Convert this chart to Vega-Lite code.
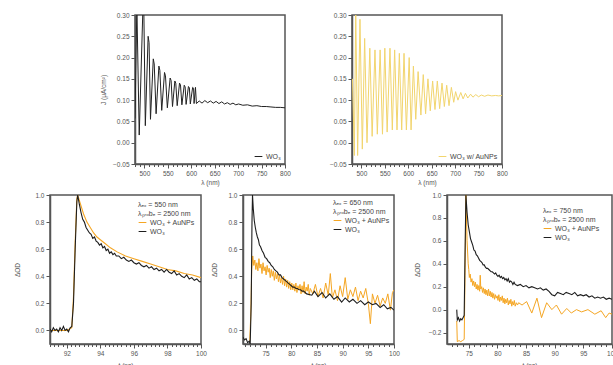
{
"$schema":"https://vega.github.io/schema/vega-lite/v6.json",
"autosize":{"type":"none"},
"padding":{"left":50,"top":15,"right":563,"bottom":350},
"background":"white",
"config":{
 "font":"Liberation Sans",
 "view":{"stroke":"#555","strokeWidth":1.5},
 "axis":{"grid":false,"domainColor":"#555","domainWidth":1.5,"tickColor":"#555","tickWidth":1,"tickSize":4,"labelFontSize":6.5,"labelColor":"#555","labelPadding":2,"titleFontSize":6.5,"titleColor":"#555","titleFontWeight":"normal","labelFlush":false,"labelOverlap":false},
 "legend":{"labelFontSize":7,"titleFontSize":7,"titleLineHeight":9,"labelColor":"#444","titleColor":"#444","titleFontWeight":"normal","symbolType":"stroke","symbolStrokeWidth":1.3,"symbolSize":60,"rowPadding":1,"padding":0,"titlePadding":1,"labelOffset":3,"labelFont":"Liberation Sans","titleFont":"Liberation Sans"},
 "line":{"strokeWidth":1,"clip":true}
},
"datasets":{
 "tl":[{"x":480,"y":0.057},{"x":484,"y":0.32},{"x":489,"y":0.018},{"x":497,"y":0.32},{"x":499,"y":0.3},{"x":502,"y":0.04},{"x":508,"y":0.25},{"x":510,"y":0.235},{"x":513,"y":0.055},{"x":519,"y":0.197},{"x":521,"y":0.185},{"x":525,"y":0.068},{"x":531,"y":0.18},{"x":533,"y":0.17},{"x":537,"y":0.076},{"x":543,"y":0.165},{"x":545,"y":0.157},{"x":549,"y":0.082},{"x":555,"y":0.152},{"x":557,"y":0.146},{"x":560,"y":0.085},{"x":565,"y":0.145},{"x":567,"y":0.14},{"x":570,"y":0.087},{"x":575,"y":0.14},{"x":577,"y":0.136},{"x":580,"y":0.089},{"x":585,"y":0.135},{"x":587,"y":0.131},{"x":589,"y":0.09},{"x":594,"y":0.132},{"x":596,"y":0.129},{"x":598,"y":0.091},{"x":603,"y":0.13},{"x":605,"y":0.128},{"x":606,"y":0.092},{"x":609,"y":0.13},{"x":611,"y":0.092},{"x":617,"y":0.098},{"x":623,"y":0.093},{"x":629,"y":0.099},{"x":635,"y":0.094},{"x":641,"y":0.098},{"x":647,"y":0.093},{"x":653,"y":0.097},{"x":659,"y":0.092},{"x":665,"y":0.096},{"x":671,"y":0.091},{"x":677,"y":0.094},{"x":683,"y":0.09},{"x":689,"y":0.093},{"x":695,"y":0.089},{"x":701,"y":0.091},{"x":710,"y":0.088},{"x":720,"y":0.089},{"x":730,"y":0.086},{"x":740,"y":0.087},{"x":750,"y":0.085},{"x":760,"y":0.085},{"x":770,"y":0.084},{"x":780,"y":0.083},{"x":790,"y":0.083},{"x":800,"y":0.082}],
 "tr":[{"x":481,"y":0.15},{"x":485,"y":-0.03},{"x":488,"y":0.31},{"x":492,"y":-0.03},{"x":497,"y":0.29},{"x":502,"y":-0.015},{"x":507,"y":0.245},{"x":512,"y":0.0},{"x":518,"y":0.222},{"x":523,"y":0.015},{"x":529,"y":0.218},{"x":534,"y":0.02},{"x":540,"y":0.218},{"x":545,"y":0.02},{"x":550,"y":0.222},{"x":555,"y":0.025},{"x":561,"y":0.222},{"x":566,"y":0.03},{"x":571,"y":0.218},{"x":576,"y":0.03},{"x":581,"y":0.21},{"x":586,"y":0.03},{"x":591,"y":0.21},{"x":596,"y":0.03},{"x":602,"y":0.2},{"x":606,"y":0.03},{"x":611,"y":0.18},{"x":616,"y":0.055},{"x":621,"y":0.167},{"x":627,"y":0.065},{"x":632,"y":0.16},{"x":637,"y":0.068},{"x":642,"y":0.15},{"x":647,"y":0.075},{"x":652,"y":0.145},{"x":657,"y":0.078},{"x":662,"y":0.145},{"x":667,"y":0.08},{"x":672,"y":0.14},{"x":677,"y":0.085},{"x":682,"y":0.135},{"x":687,"y":0.087},{"x":692,"y":0.13},{"x":697,"y":0.095},{"x":701,"y":0.12},{"x":706,"y":0.1},{"x":712,"y":0.118},{"x":717,"y":0.103},{"x":722,"y":0.116},{"x":727,"y":0.105},{"x":733,"y":0.114},{"x":738,"y":0.107},{"x":744,"y":0.113},{"x":750,"y":0.108},{"x":756,"y":0.112},{"x":763,"y":0.109},{"x":770,"y":0.112},{"x":778,"y":0.11},{"x":786,"y":0.111},{"x":793,"y":0.11},{"x":800,"y":0.111}],
 "bl_a":[{"t":91,"v":0.0},{"t":91.5,"v":0.0},{"t":92,"v":0.0},{"t":92.3,"v":0.02},{"t":92.4,"v":0.25},{"t":92.5,"v":0.65},{"t":92.6,"v":0.97},{"t":92.65,"v":1.0},{"t":92.8,"v":0.94},{"t":93.0,"v":0.86},{"t":93.2,"v":0.8},{"t":93.4,"v":0.76},{"t":93.6,"v":0.72},{"t":93.8,"v":0.69},{"t":94.0,"v":0.67},{"t":94.3,"v":0.64},{"t":94.6,"v":0.61},{"t":95.0,"v":0.58},{"t":95.5,"v":0.55},{"t":96.0,"v":0.53},{"t":96.5,"v":0.51},{"t":97.0,"v":0.49},{"t":97.5,"v":0.47},{"t":98.0,"v":0.45},{"t":98.5,"v":0.44},{"t":99.0,"v":0.42},{"t":99.5,"v":0.41},{"t":100,"v":0.39}],
 "bl_w":[{"t":91.0,"v":0.01},{"t":91.1,"v":-0.01},{"t":91.2,"v":0.02},{"t":91.3,"v":0.0},{"t":91.4,"v":0.01},{"t":91.5,"v":-0.01},{"t":91.6,"v":0.02},{"t":91.7,"v":0.0},{"t":91.8,"v":0.03},{"t":91.9,"v":0.0},{"t":92.0,"v":0.01},{"t":92.1,"v":-0.01},{"t":92.2,"v":0.02},{"t":92.3,"v":0.03},{"t":92.4,"v":0.2},{"t":92.5,"v":0.6},{"t":92.6,"v":0.95},{"t":92.65,"v":1.0},{"t":92.75,"v":0.93},{"t":92.85,"v":0.87},{"t":92.95,"v":0.82},{"t":93.05,"v":0.8},{"t":93.15,"v":0.76},{"t":93.25,"v":0.74},{"t":93.35,"v":0.72},{"t":93.45,"v":0.71},{"t":93.55,"v":0.68},{"t":93.65,"v":0.69},{"t":93.75,"v":0.66},{"t":93.85,"v":0.65},{"t":93.95,"v":0.63},{"t":94.05,"v":0.64},{"t":94.15,"v":0.61},{"t":94.25,"v":0.62},{"t":94.35,"v":0.59},{"t":94.45,"v":0.6},{"t":94.55,"v":0.57},{"t":94.65,"v":0.58},{"t":94.75,"v":0.56},{"t":94.85,"v":0.57},{"t":94.95,"v":0.55},{"t":95.1,"v":0.55},{"t":95.25,"v":0.53},{"t":95.4,"v":0.54},{"t":95.55,"v":0.52},{"t":95.7,"v":0.51},{"t":95.85,"v":0.52},{"t":96.0,"v":0.5},{"t":96.15,"v":0.49},{"t":96.3,"v":0.5},{"t":96.45,"v":0.48},{"t":96.6,"v":0.47},{"t":96.75,"v":0.48},{"t":96.9,"v":0.46},{"t":97.05,"v":0.47},{"t":97.2,"v":0.45},{"t":97.35,"v":0.46},{"t":97.5,"v":0.44},{"t":97.65,"v":0.45},{"t":97.8,"v":0.43},{"t":97.95,"v":0.45},{"t":98.1,"v":0.43},{"t":98.25,"v":0.42},{"t":98.4,"v":0.44},{"t":98.55,"v":0.41},{"t":98.7,"v":0.42},{"t":98.85,"v":0.4},{"t":99.0,"v":0.39},{"t":99.15,"v":0.41},{"t":99.3,"v":0.38},{"t":99.45,"v":0.39},{"t":99.6,"v":0.37},{"t":99.75,"v":0.38},{"t":99.9,"v":0.36},{"t":100,"v":0.36}],
 "bm_a":[{"t":71.9,"v":-0.08},{"t":72.1,"v":0.1},{"t":72.3,"v":0.45},{"t":72.5,"v":0.55},{"t":72.7,"v":0.48},{"t":72.9,"v":0.52},{"t":73.1,"v":0.45},{"t":73.3,"v":0.5},{"t":73.5,"v":0.44},{"t":73.7,"v":0.53},{"t":73.9,"v":0.46},{"t":74.1,"v":0.49},{"t":74.3,"v":0.42},{"t":74.5,"v":0.5},{"t":74.7,"v":0.44},{"t":74.9,"v":0.47},{"t":75.1,"v":0.41},{"t":75.3,"v":0.48},{"t":75.5,"v":0.43},{"t":75.7,"v":0.46},{"t":75.9,"v":0.39},{"t":76.1,"v":0.45},{"t":76.3,"v":0.4},{"t":76.5,"v":0.44},{"t":76.7,"v":0.37},{"t":76.9,"v":0.43},{"t":77.1,"v":0.38},{"t":77.3,"v":0.42},{"t":77.5,"v":0.36},{"t":77.7,"v":0.41},{"t":77.9,"v":0.35},{"t":78.1,"v":0.39},{"t":78.3,"v":0.34},{"t":78.5,"v":0.4},{"t":78.7,"v":0.33},{"t":78.9,"v":0.38},{"t":79.1,"v":0.32},{"t":79.3,"v":0.37},{"t":79.5,"v":0.31},{"t":79.7,"v":0.36},{"t":79.9,"v":0.3},{"t":80.1,"v":0.35},{"t":80.3,"v":0.3},{"t":80.5,"v":0.34},{"t":80.7,"v":0.29},{"t":80.9,"v":0.35},{"t":81.1,"v":0.28},{"t":81.3,"v":0.33},{"t":81.5,"v":0.3},{"t":81.7,"v":0.34},{"t":81.9,"v":0.27},{"t":82.1,"v":0.33},{"t":82.3,"v":0.28},{"t":82.5,"v":0.36},{"t":82.7,"v":0.27},{"t":82.9,"v":0.32},{"t":83.1,"v":0.29},{"t":83.3,"v":0.34},{"t":83.5,"v":0.26},{"t":83.7,"v":0.31},{"t":84.2,"v":0.27},{"t":84.7,"v":0.34},{"t":85.2,"v":0.25},{"t":85.7,"v":0.31},{"t":86.2,"v":0.24},{"t":86.7,"v":0.35},{"t":87.2,"v":0.26},{"t":87.6,"v":0.42},{"t":88.0,"v":0.24},{"t":88.5,"v":0.3},{"t":89.0,"v":0.22},{"t":89.5,"v":0.33},{"t":90.0,"v":0.25},{"t":90.5,"v":0.39},{"t":91.0,"v":0.23},{"t":91.5,"v":0.3},{"t":92.0,"v":0.25},{"t":92.5,"v":0.32},{"t":93.0,"v":0.22},{"t":93.5,"v":0.29},{"t":94.0,"v":0.24},{"t":94.5,"v":0.31},{"t":95.0,"v":0.2},{"t":95.4,"v":0.05},{"t":95.8,"v":0.27},{"t":96.3,"v":0.2},{"t":96.8,"v":0.26},{"t":97.3,"v":0.18},{"t":97.8,"v":0.24},{"t":98.3,"v":0.2},{"t":98.8,"v":0.27},{"t":99.3,"v":0.15},{"t":99.7,"v":0.28},{"t":100,"v":0.3}],
 "bm_w":[{"t":70.6,"v":-0.05},{"t":70.9,"v":-0.07},{"t":71.2,"v":-0.06},{"t":71.5,"v":-0.09},{"t":71.8,"v":-0.08},{"t":72.0,"v":-0.1},{"t":72.2,"v":0.2},{"t":72.35,"v":0.8},{"t":72.45,"v":1.0},{"t":72.6,"v":0.9},{"t":72.8,"v":0.81},{"t":73.0,"v":0.76},{"t":73.2,"v":0.72},{"t":73.4,"v":0.69},{"t":73.6,"v":0.67},{"t":73.8,"v":0.63},{"t":74.0,"v":0.62},{"t":74.3,"v":0.59},{"t":74.6,"v":0.57},{"t":74.9,"v":0.54},{"t":75.2,"v":0.53},{"t":75.5,"v":0.51},{"t":75.8,"v":0.5},{"t":76.1,"v":0.48},{"t":76.4,"v":0.47},{"t":76.7,"v":0.45},{"t":77.0,"v":0.44},{"t":77.3,"v":0.43},{"t":77.6,"v":0.41},{"t":77.9,"v":0.41},{"t":78.2,"v":0.39},{"t":78.5,"v":0.38},{"t":78.8,"v":0.37},{"t":79.1,"v":0.36},{"t":79.4,"v":0.35},{"t":79.7,"v":0.34},{"t":80.0,"v":0.33},{"t":80.3,"v":0.32},{"t":80.6,"v":0.32},{"t":80.9,"v":0.31},{"t":81.2,"v":0.31},{"t":81.5,"v":0.3},{"t":81.8,"v":0.3},{"t":82.1,"v":0.29},{"t":82.4,"v":0.29},{"t":82.7,"v":0.28},{"t":83.0,"v":0.27},{"t":84.0,"v":0.26},{"t":84.5,"v":0.29},{"t":85.2,"v":0.25},{"t":86.0,"v":0.28},{"t":86.7,"v":0.24},{"t":87.5,"v":0.27},{"t":88.3,"v":0.23},{"t":89.0,"v":0.25},{"t":89.8,"v":0.21},{"t":90.5,"v":0.24},{"t":91.3,"v":0.21},{"t":92.0,"v":0.23},{"t":92.8,"v":0.2},{"t":93.5,"v":0.22},{"t":94.3,"v":0.19},{"t":95.0,"v":0.21},{"t":95.8,"v":0.19},{"t":96.5,"v":0.2},{"t":97.3,"v":0.17},{"t":98.0,"v":0.19},{"t":98.7,"v":0.16},{"t":99.4,"v":0.17},{"t":100,"v":0.15}],
 "br_a":[{"t":72.9,"v":-0.1},{"t":73.0,"v":-0.28},{"t":73.3,"v":-0.27},{"t":73.6,"v":-0.28},{"t":73.9,"v":-0.27},{"t":74.2,"v":-0.26},{"t":74.35,"v":0.3},{"t":74.5,"v":1.0},{"t":74.7,"v":0.6},{"t":74.9,"v":0.4},{"t":75.0,"v":0.35},{"t":75.1,"v":0.28},{"t":75.25,"v":0.31},{"t":75.4,"v":0.24},{"t":75.55,"v":0.27},{"t":75.7,"v":0.21},{"t":75.85,"v":0.25},{"t":76.0,"v":0.2},{"t":76.15,"v":0.24},{"t":76.3,"v":0.18},{"t":76.45,"v":0.22},{"t":76.6,"v":0.17},{"t":76.75,"v":0.21},{"t":76.9,"v":0.16},{"t":77.0,"v":0.3},{"t":77.1,"v":0.18},{"t":77.25,"v":0.2},{"t":77.4,"v":0.15},{"t":77.55,"v":0.19},{"t":77.7,"v":0.14},{"t":77.85,"v":0.18},{"t":78.0,"v":0.13},{"t":78.15,"v":0.17},{"t":78.3,"v":0.12},{"t":78.45,"v":0.18},{"t":78.6,"v":0.12},{"t":78.75,"v":0.16},{"t":78.9,"v":0.11},{"t":79.05,"v":0.15},{"t":79.2,"v":0.1},{"t":79.35,"v":0.14},{"t":79.5,"v":0.09},{"t":79.65,"v":0.13},{"t":79.8,"v":0.1},{"t":79.95,"v":0.12},{"t":80.1,"v":0.08},{"t":80.25,"v":0.13},{"t":80.4,"v":0.07},{"t":80.55,"v":0.11},{"t":80.7,"v":0.08},{"t":80.85,"v":0.12},{"t":81.0,"v":0.06},{"t":81.15,"v":0.1},{"t":81.3,"v":0.05},{"t":81.45,"v":0.09},{"t":81.6,"v":0.06},{"t":81.75,"v":0.1},{"t":81.9,"v":0.04},{"t":82.05,"v":0.08},{"t":82.2,"v":0.05},{"t":82.35,"v":0.09},{"t":82.5,"v":0.03},{"t":82.65,"v":0.07},{"t":82.8,"v":0.04},{"t":82.95,"v":0.08},{"t":83.1,"v":0.03},{"t":83.3,"v":0.06},{"t":83.5,"v":0.04},{"t":83.7,"v":0.06},{"t":84.3,"v":0.04},{"t":85.1,"v":0.07},{"t":86.0,"v":-0.03},{"t":86.9,"v":0.1},{"t":87.7,"v":-0.07},{"t":88.6,"v":0.06},{"t":89.5,"v":0.0},{"t":90.3,"v":0.04},{"t":91.2,"v":-0.04},{"t":92.1,"v":0.01},{"t":92.9,"v":-0.03},{"t":93.8,"v":0.0},{"t":94.7,"v":-0.02},{"t":95.8,"v":0.0},{"t":97.0,"v":-0.04},{"t":98.1,"v":-0.01},{"t":98.9,"v":-0.07},{"t":99.5,"v":-0.03},{"t":100,"v":-0.04}],
 "br_w":[{"t":72.9,"v":0.0},{"t":73.0,"v":-0.09},{"t":73.2,"v":-0.07},{"t":73.4,"v":-0.1},{"t":73.6,"v":-0.08},{"t":73.8,"v":-0.09},{"t":74.0,"v":-0.07},{"t":74.2,"v":-0.05},{"t":74.35,"v":0.5},{"t":74.5,"v":1.0},{"t":74.7,"v":0.85},{"t":74.9,"v":0.74},{"t":75.1,"v":0.68},{"t":75.3,"v":0.62},{"t":75.5,"v":0.59},{"t":75.7,"v":0.56},{"t":75.9,"v":0.52},{"t":76.1,"v":0.51},{"t":76.3,"v":0.48},{"t":76.5,"v":0.47},{"t":76.7,"v":0.45},{"t":76.9,"v":0.43},{"t":77.1,"v":0.42},{"t":77.3,"v":0.41},{"t":77.5,"v":0.39},{"t":77.7,"v":0.39},{"t":77.9,"v":0.37},{"t":78.1,"v":0.36},{"t":78.3,"v":0.36},{"t":78.5,"v":0.35},{"t":78.7,"v":0.34},{"t":78.9,"v":0.33},{"t":79.1,"v":0.33},{"t":79.3,"v":0.32},{"t":79.5,"v":0.31},{"t":79.7,"v":0.32},{"t":79.9,"v":0.3},{"t":80.1,"v":0.29},{"t":80.3,"v":0.3},{"t":80.5,"v":0.28},{"t":80.7,"v":0.29},{"t":80.9,"v":0.27},{"t":81.1,"v":0.28},{"t":81.3,"v":0.26},{"t":81.5,"v":0.27},{"t":81.7,"v":0.25},{"t":81.9,"v":0.27},{"t":82.1,"v":0.24},{"t":82.3,"v":0.25},{"t":82.5,"v":0.24},{"t":82.7,"v":0.22},{"t":82.9,"v":0.24},{"t":83.1,"v":0.22},{"t":83.5,"v":0.21},{"t":84,"v":0.22},{"t":84.5,"v":0.2},{"t":85,"v":0.21},{"t":85.5,"v":0.19},{"t":86,"v":0.2},{"t":86.5,"v":0.19},{"t":87,"v":0.18},{"t":87.5,"v":0.19},{"t":88,"v":0.17},{"t":88.5,"v":0.18},{"t":89,"v":0.16},{"t":89.5,"v":0.13},{"t":90,"v":0.12},{"t":90.5,"v":0.15},{"t":91,"v":0.14},{"t":91.5,"v":0.13},{"t":92,"v":0.15},{"t":92.5,"v":0.14},{"t":93,"v":0.13},{"t":93.5,"v":0.15},{"t":94,"v":0.12},{"t":94.5,"v":0.13},{"t":95,"v":0.12},{"t":95.5,"v":0.13},{"t":96,"v":0.11},{"t":96.5,"v":0.12},{"t":97,"v":0.1},{"t":97.5,"v":0.11},{"t":98,"v":0.1},{"t":98.5,"v":0.11},{"t":99,"v":0.09},{"t":99.5,"v":0.1},{"t":100,"v":0.09}]
},
"spacing":180,
"bounds":"flush",
"resolve":{"scale":{"color":"independent"},"legend":{"color":"independent"}},
"vconcat":[
 {"hconcat":[
   {"width":18,"height":149,"data":{"values":[{"a":0}]},"mark":{"type":"point","opacity":0},"encoding":{},"view":{"stroke":null}},
   {"width":150,"height":149,"data":{"name":"tl"},"mark":{"type":"line","strokeWidth":1,"clip":true},
    "encoding":{
     "x":{"field":"x","type":"quantitative","scale":{"domain":[480,800],"nice":false,"zero":false},"axis":{"title":"λ (nm)","values":[480,490,500,510,520,530,540,550,560,570,580,590,600,610,620,630,640,650,660,670,680,690,700,710,720,730,740,750,760,770,780,790,800],"labelExpr":"datum.value % 50 === 0 ? datum.label : ''","tickSize":{"condition":{"test":"datum.value % 50 === 0","value":4},"value":2.5},"format":"d","titlePadding":3}},
     "y":{"field":"y","type":"quantitative","scale":{"domain":[-0.05,0.3],"nice":false,"zero":false},"axis":{"title":"J (μA/cm²)","values":[-0.05,0,0.05,0.1,0.15,0.2,0.25,0.3],"format":".2f","titlePadding":6}},
     "color":{"datum":"WO₃","scale":{"domain":["WO₃"],"range":["#222222"]},"legend":{"title":null,"orient":"bottom-right","offset":4}}
    }},
   {"width":150,"height":149,"data":{"name":"tr"},"mark":{"type":"line","strokeWidth":1,"clip":true},
    "encoding":{
     "x":{"field":"x","type":"quantitative","scale":{"domain":[480,800],"nice":false,"zero":false},"axis":{"title":"λ (nm)","values":[480,490,500,510,520,530,540,550,560,570,580,590,600,610,620,630,640,650,660,670,680,690,700,710,720,730,740,750,760,770,780,790,800],"labelExpr":"datum.value % 50 === 0 ? datum.label : ''","tickSize":{"condition":{"test":"datum.value % 50 === 0","value":4},"value":2.5},"format":"d","titlePadding":3}},
     "y":{"field":"y","type":"quantitative","scale":{"domain":[-0.05,0.3],"nice":false,"zero":false},"axis":{"title":null,"values":[-0.05,0,0.05,0.1,0.15,0.2,0.25,0.3],"format":".2f"}},
     "color":{"datum":"WO₃ w/ AuNPs","scale":{"domain":["WO₃ w/ AuNPs"],"range":["#f2d56e"]},"legend":{"title":null,"orient":"bottom-right","offset":4}}
    }}
  ],
  "spacing":67,"bounds":"flush",
  "resolve":{"scale":{"color":"independent"},"legend":{"color":"independent"}}
 },
 {"hconcat":[
   {"width":151,"height":149,
    "encoding":{
     "x":{"field":"t","type":"quantitative","scale":{"domain":[91,100],"nice":false,"zero":false},"axis":{"title":"t (ps)","values":[91,91.25,91.5,91.75,92,92.25,92.5,92.75,93,93.25,93.5,93.75,94,94.25,94.5,94.75,95,95.25,95.5,95.75,96,96.25,96.5,96.75,97,97.25,97.5,97.75,98,98.25,98.5,98.75,99,99.25,99.5,99.75,100],"labelExpr":"datum.value % 2 === 0 ? format(datum.value, 'd') : ''","tickSize":{"condition":{"test":"datum.value % 2 === 0","value":4},"value":2.5},"titlePadding":6}},
     "y":{"field":"v","type":"quantitative","scale":{"domain":[-0.1,1.0],"nice":false,"zero":false},"axis":{"title":"ΔOD","values":[0,0.2,0.4,0.6,0.8,1.0],"format":".1f","titlePadding":14}},
     "color":{"datum":"WO₃","scale":{"domain":["WO₃ + AuNPs","WO₃"],"range":["#f5a623","#1e1e1e"]},"legend":{"title":["λₑₓ = 550 nm","λₚᵣₒbₑ = 2500 nm"],"orient":"top-right","offset":6}}
    },
    "layer":[
     {"data":{"name":"bl_a"},"mark":{"type":"line","strokeWidth":1.1,"clip":true},"encoding":{"color":{"datum":"WO₃ + AuNPs"}}},
     {"data":{"name":"bl_w"},"mark":{"type":"line","strokeWidth":1.1,"clip":true},"encoding":{"color":{"datum":"WO₃"}}}
    ]},
   {"hconcat":[
     {"width":151,"height":149,
      "encoding":{
       "x":{"field":"t","type":"quantitative","scale":{"domain":[70.6,100],"nice":false,"zero":false},"axis":{"title":"t (ps)","values":[71,72,73,74,75,76,77,78,79,80,81,82,83,84,85,86,87,88,89,90,91,92,93,94,95,96,97,98,99,100],"labelExpr":"datum.value % 5 === 0 ? format(datum.value, 'd') : ''","tickSize":{"condition":{"test":"datum.value % 5 === 0","value":4},"value":2.5},"titlePadding":6}},
       "y":{"field":"v","type":"quantitative","scale":{"domain":[-0.1,1.0],"nice":false,"zero":false},"axis":{"title":"ΔOD","values":[0,0.2,0.4,0.6,0.8,1.0],"format":".1f","titlePadding":10}},
       "color":{"datum":"WO₃","scale":{"domain":["WO₃ + AuNPs","WO₃"],"range":["#f5a623","#1e1e1e"]},"legend":{"title":["λₑₓ = 650 nm","λₚᵣₒbₑ = 2500 nm"],"orient":"top-right","offset":4}}
      },
      "layer":[
       {"data":{"name":"bm_a"},"mark":{"type":"line","strokeWidth":1,"clip":true},"encoding":{"color":{"datum":"WO₃ + AuNPs"}}},
       {"data":{"name":"bm_w"},"mark":{"type":"line","strokeWidth":1.1,"clip":true},"encoding":{"color":{"datum":"WO₃"}}}
      ]},
     {"width":165,"height":149,
      "encoding":{
       "x":{"field":"t","type":"quantitative","scale":{"domain":[71.2,100],"nice":false,"zero":false},"axis":{"title":"t (ps)","values":[72,73,74,75,76,77,78,79,80,81,82,83,84,85,86,87,88,89,90,91,92,93,94,95,96,97,98,99,100],"labelExpr":"datum.value % 5 === 0 ? format(datum.value, 'd') : ''","tickSize":{"condition":{"test":"datum.value % 5 === 0","value":4},"value":2.5},"titlePadding":6}},
       "y":{"field":"v","type":"quantitative","scale":{"domain":[-0.3,1.0],"nice":false,"zero":false},"axis":{"title":"ΔOD","values":[-0.2,0,0.2,0.4,0.6,0.8,1.0],"format":".1f","titlePadding":8}},
       "color":{"datum":"WO₃","scale":{"domain":["WO₃ + AuNPs","WO₃"],"range":["#f5a623","#1e1e1e"]},"legend":{"title":["λₑₓ = 750 nm","λₚᵣₒbₑ = 2500 nm"],"orient":"top-right","offset":12}}
      },
      "layer":[
       {"data":{"name":"br_a"},"mark":{"type":"line","strokeWidth":1,"clip":true},"encoding":{"color":{"datum":"WO₃ + AuNPs"}}},
       {"data":{"name":"br_w"},"mark":{"type":"line","strokeWidth":1.1,"clip":true},"encoding":{"color":{"datum":"WO₃"}}}
      ]}
    ],
    "spacing":53,"bounds":"flush",
    "resolve":{"scale":{"color":"independent"},"legend":{"color":"independent"}}
   }
  ],
  "spacing":42,"bounds":"flush",
  "resolve":{"scale":{"color":"independent"},"legend":{"color":"independent"}}
 }
]
}
